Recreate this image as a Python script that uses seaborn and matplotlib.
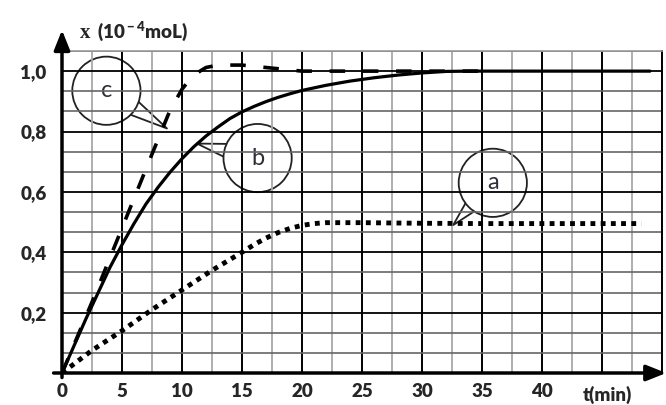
import numpy as np
import pandas as pd
import matplotlib
matplotlib.use('Agg')
import matplotlib.pyplot as plt
import seaborn as sns
from matplotlib.ticker import MultipleLocator

# Courbes x = f(t) pour les trois expériences a, b, c
t_a = [0, 2.5, 5, 7.5, 10, 12.5, 15, 16, 17, 18, 19, 20, 21, 22, 25, 30, 35, 40, 45, 48.3]
x_a = [0, 0.075, 0.14, 0.21, 0.275, 0.34, 0.40, 0.425, 0.447, 0.465, 0.479, 0.489, 0.495, 0.498,
       0.498, 0.496, 0.495, 0.495, 0.495, 0.495]

t_b = [0, 1, 2, 3, 4, 5, 6, 7, 8, 9, 10, 11, 12, 13, 14, 15, 16, 17, 18, 19, 20,
       22, 24, 26, 28, 30, 32, 34, 40, 45, 49]
x_b = [0, 0.09, 0.18, 0.265, 0.35, 0.425, 0.495, 0.56, 0.615, 0.665, 0.71, 0.75, 0.785,
       0.815, 0.843, 0.865, 0.883, 0.899, 0.913, 0.925, 0.936, 0.953, 0.967, 0.978, 0.987,
       0.994, 0.999, 1.0, 1.0, 1.0, 1.0]

t_c = [0, 2.5, 5, 7.5, 9, 10, 10.5, 11, 11.5, 12, 13, 15, 17.5, 20, 25, 30, 35]
x_c = [0, 0.235, 0.48, 0.725, 0.87, 0.94, 0.965, 0.985, 1.0, 1.012, 1.02, 1.02, 1.01, 1.0,
       1.0, 1.0, 1.0]

x_ticks = [0, 5, 10, 15, 20, 25, 30, 35, 40, 45, 50]
x_labels = ['0', '5', '10', '15', '20', '25', '30', '35', '40', '', '']
y_ticks = [0.2, 0.4, 0.6, 0.8, 1.0]
y_labels = ['0,2', '0,4', '0,6', '0,8', '1,0']

# bulles : (lettre, position du texte, pointe)
callouts = [('c', (3.7, 0.935), (8.75, 0.81)),
            ('b', (16.3, 0.712), (11.25, 0.76)),
            ('a', (35.9, 0.63), (32.6, 0.49))]

sns.set_style('white')
plt.rcParams['font.family'] = ['Lato', 'DejaVu Sans']
plt.rcParams['mathtext.fontset'] = 'custom'
plt.rcParams['mathtext.rm'] = 'Lato:heavy'
plt.rcParams['mathtext.it'] = 'Lato:heavy'
plt.rcParams['mathtext.bf'] = 'Lato:heavy'

fig = plt.figure(figsize=(6.66, 4.05), dpi=100)
ax = fig.add_axes([62/666, 32/405, 600/666, 322/405])

sns.lineplot(x=t_c, y=x_c, ax=ax, color='black', lw=2.6, linestyle=(0, (4.3, 4.9)),
             estimator=None, sort=False)
sns.lineplot(x=t_a, y=x_a, ax=ax, color='black', lw=3.5, linestyle=(0, (1, 1.1)),
             estimator=None, sort=False)
sns.lineplot(x=t_b, y=x_b, ax=ax, color='black', lw=2.3, estimator=None, sort=False)

ax.set_xlim(0, 50)
ax.set_ylim(0, 16/15)

# quadrillage
ax.set_xticks(x_ticks)
ax.set_xticklabels(x_labels)
ax.set_yticks(y_ticks)
ax.set_yticklabels(y_labels)
ax.xaxis.set_minor_locator(MultipleLocator(2.5))
ax.yaxis.set_minor_locator(MultipleLocator(1/15))
ax.set_axisbelow(True)
ax.grid(True, which='minor', axis='x', color='#a8a8a8', lw=1.3)
ax.grid(True, which='major', axis='x', color='black', lw=1.4)
ax.grid(True, which='minor', axis='y', color='#666666', lw=1.2)
ax.grid(True, which='major', axis='y', color='black', lw=1.3)
ax.tick_params(which='both', length=0)
ax.tick_params(axis='y', pad=11, labelsize=13.5)
ax.tick_params(axis='x', pad=7, labelsize=13.5)
for lab in ax.get_xticklabels() + ax.get_yticklabels():
    lab.set_fontweight('heavy')

ax.spines['left'].set_visible(False)
ax.spines['bottom'].set_visible(False)
ax.spines['top'].set_color('#999999')
ax.spines['top'].set_linewidth(1.2)
ax.spines['right'].set_color('black')
ax.spines['right'].set_linewidth(1.4)

# axes avec flèches
arrow_kw = dict(arrowstyle='-|>,head_length=1.0,head_width=0.4', color='black', lw=2.5,
                shrinkA=0, shrinkB=0, mutation_scale=12)
ax.annotate('', xy=(50.35, 0), xytext=(-0.7, 0), arrowprops=arrow_kw,
            annotation_clip=False, zorder=5)
ax.annotate('', xy=(0, 1.136), xytext=(0, -0.015), arrowprops=arrow_kw,
            annotation_clip=False, zorder=5)

# bulles
for lab, xytext, xy in callouts:
    ax.annotate(lab, xy=xy, xytext=xytext, ha='center', va='center', fontsize=17,
                color='#2e2e38', zorder=0.3,
                bbox=dict(boxstyle='circle,pad=1.0', fc='white', ec='#222222', lw=1.3),
                arrowprops=dict(arrowstyle='wedge,tail_width=1.2,shrink_factor=0.5',
                                fc='white', ec='#222222', lw=1.3, patchA=None,
                                shrinkA=0, shrinkB=0))

# titres des axes
fig.text(80/666, 1 - 38/405, 'x', family='Liberation Serif', weight='bold', size=15, va='baseline')
fig.text(97/666, 1 - 38/405, '(10$^{\\rm -4}$moL)', weight='heavy', size=13.5, va='baseline')
fig.text(607/666, 1 - 395/405, 't(min)', weight='heavy', size=13.5, ha='center', va='center')

fig.savefig('out.png', dpi=100, facecolor='white')
plt.close(fig)
